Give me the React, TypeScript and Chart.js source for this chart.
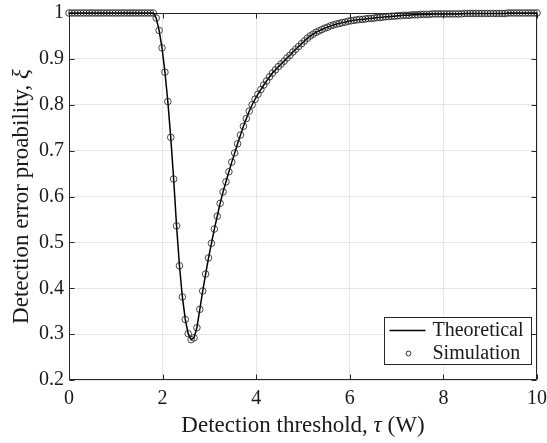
import React, { useEffect, useRef } from "react";
import { Chart, registerables } from "chart.js";

Chart.register(...registerables);

// ---- data ----
const TAU_MIN = 0;
const TAU_MAX = 10;
const SAMPLE_COUNT = 162;

// detection error probability at each threshold sample (tau from 0 to 10 W)
const xiValues = [
  1, 1, 1, 1, 1, 1, 1, 1, 1, 1,
  1, 1, 1, 1, 1, 1, 1, 1, 1, 1,
  1, 1, 1, 1, 1, 1, 1, 1, 1, 1,
  0.989, 0.962, 0.924, 0.871, 0.807, 0.729, 0.638, 0.536, 0.449, 0.381,
  0.332, 0.301, 0.288, 0.292, 0.314, 0.354, 0.394, 0.431, 0.466, 0.498,
  0.529, 0.557, 0.585, 0.61, 0.632, 0.654, 0.675, 0.695, 0.715, 0.734,
  0.753, 0.77, 0.786, 0.8, 0.812, 0.823, 0.833, 0.843, 0.852, 0.861,
  0.869, 0.876, 0.883, 0.889, 0.895, 0.902, 0.908, 0.915, 0.921, 0.927,
  0.933, 0.939, 0.945, 0.95, 0.954, 0.958, 0.961, 0.964, 0.967, 0.969,
  0.972, 0.974, 0.976, 0.977, 0.979, 0.98, 0.982, 0.983, 0.984, 0.985,
  0.986, 0.986, 0.987, 0.988, 0.988, 0.989, 0.99, 0.99, 0.991, 0.992,
  0.992, 0.993, 0.993, 0.994, 0.994, 0.995, 0.995, 0.995, 0.996, 0.996,
  0.996, 0.997, 0.997, 0.997, 0.997, 0.998, 0.998, 0.998, 0.998, 0.998,
  0.998, 0.998, 0.998, 0.998, 0.998, 0.998, 0.999, 0.999, 0.999, 0.999,
  0.999, 0.999, 0.999, 0.999, 0.999, 0.999, 0.999, 0.999, 0.999, 0.999,
  0.999, 1, 1, 1, 1, 1, 1, 1, 1, 1,
  1, 1,
];

const xTickValues = [0, 2, 4, 6, 8, 10];
const yMin = 0.2;
const yMax = 1;
const yStep = 0.1;
const seriesNames = ["Theoretical", "Simulation"];
// title pieces: [text, italic]
const xTitleParts: [string, boolean][] = [
  ["Detection threshold, ", false],
  ["\u03C4", true],
  [" (W)", false],
];
const yTitleParts: [string, boolean][] = [
  ["Detection error proability, ", false],
  ["\u03BE", true],
];

const FONT = "'Liberation Serif', 'Times New Roman', serif";
const TEXT = "#1a1a1a";
const AXIS = "#262626";
const TITLE_SIZE = 23;

function buildPoints() {
  return xiValues.map((v, i) => ({
    x: TAU_MIN + (i * (TAU_MAX - TAU_MIN)) / (SAMPLE_COUNT - 1),
    y: v,
  }));
}

function drawParts(ctx: any, parts: [string, boolean][], cx: number, cy: number) {
  const fontFor = (it: boolean) => `${it ? "italic " : ""}${TITLE_SIZE}px ${FONT}`;
  let total = 0;
  const widths = parts.map(([t, it]) => {
    ctx.font = fontFor(it);
    const w = ctx.measureText(t).width;
    total += w;
    return w;
  });
  let x = cx - total / 2;
  parts.forEach(([t, it], i) => {
    ctx.font = fontFor(it);
    ctx.fillText(t, x, cy);
    x += widths[i];
  });
}

const titlePlugin = {
  id: "axisTitles",
  afterDraw(chart: any) {
    const { ctx, chartArea: a } = chart;
    ctx.save();
    ctx.fillStyle = TEXT;
    ctx.textAlign = "left";
    ctx.textBaseline = "middle";
    drawParts(ctx, xTitleParts, (a.left + a.right) / 2, 426);
    ctx.translate(22, (a.top + a.bottom) / 2);
    ctx.rotate(-Math.PI / 2);
    drawParts(ctx, yTitleParts, 0, 0);
    ctx.restore();
  },
};

const framePlugin = {
  id: "frame",
  beforeDatasetsDraw(chart: any) {
    const { ctx, chartArea: a, scales } = chart;
    ctx.save();
    ctx.strokeStyle = AXIS;
    ctx.lineWidth = 1;
    const L = Math.round(a.left) + 0.5;
    const R = Math.round(a.right) - 0.5;
    const T = Math.round(a.top) + 0.5;
    const B = Math.round(a.bottom) - 0.5;
    ctx.beginPath();
    ctx.rect(L, T, R - L, B - T);
    ctx.stroke();
    const len = 5;
    ctx.beginPath();
    scales.x.ticks.forEach((t: any) => {
      const px = Math.round(scales.x.getPixelForValue(t.value)) + 0.5;
      ctx.moveTo(px, B);
      ctx.lineTo(px, B - len);
      ctx.moveTo(px, T);
      ctx.lineTo(px, T + len);
    });
    scales.y.ticks.forEach((t: any) => {
      const py = Math.round(scales.y.getPixelForValue(t.value)) + 0.5;
      ctx.moveTo(L, py);
      ctx.lineTo(L + len, py);
      ctx.moveTo(R, py);
      ctx.lineTo(R - len, py);
    });
    ctx.stroke();
    ctx.restore();
  },
};

const legendPlugin = {
  id: "boxLegend",
  afterDraw(chart: any) {
    const { ctx, chartArea: a } = chart;
    const x2 = Math.round(a.right) - 5.5;
    const y2 = Math.round(a.bottom) - 15.5;
    const w = 147;
    const h = 47;
    const x1 = x2 - w;
    const y1 = y2 - h;
    ctx.save();
    ctx.fillStyle = "#ffffff";
    ctx.fillRect(x1, y1, w, h);
    ctx.strokeStyle = AXIS;
    ctx.lineWidth = 1;
    ctx.strokeRect(x1, y1, w, h);
    const r1 = y1 + 13;
    const r2 = y1 + 36;
    ctx.strokeStyle = "#000";
    ctx.lineWidth = 1.5;
    ctx.beginPath();
    ctx.moveTo(x1 + 5, r1);
    ctx.lineTo(x1 + 41, r1);
    ctx.stroke();
    ctx.lineWidth = 0.8;
    ctx.beginPath();
    ctx.arc(x1 + 24, r2, 2.4, 0, Math.PI * 2);
    ctx.stroke();
    ctx.fillStyle = TEXT;
    ctx.font = `20px ${FONT}`;
    ctx.textAlign = "left";
    ctx.textBaseline = "middle";
    ctx.fillText(seriesNames[0], x1 + 48, r1);
    ctx.fillText(seriesNames[1], x1 + 48, r2);
    ctx.restore();
  },
};

export default function App() {
  const canvasRef = useRef<HTMLCanvasElement | null>(null);

  useEffect(() => {
    document.body.style.margin = "0";
    const canvas = canvasRef.current;
    if (!canvas) return;
    const pts = buildPoints();
    const chart = new Chart(canvas, {
      type: "line",
      data: {
        datasets: [
          {
            label: seriesNames[0],
            data: pts,
            borderColor: "#000",
            borderWidth: 1.5,
            pointRadius: 0,
            fill: false,
            tension: 0,
            clip: false,
            order: 2,
          },
          {
            label: seriesNames[1],
            data: pts,
            showLine: false,
            pointStyle: "circle",
            pointRadius: 3.3,
            pointBorderWidth: 0.8,
            pointBorderColor: "#1a1a1a",
            pointBackgroundColor: "rgba(0,0,0,0)",
            clip: false,
            order: 1,
          },
        ],
      },
      options: {
        animation: false,
        responsive: false,
        devicePixelRatio: 1,
        layout: { padding: { top: 13, right: 10, left: 0, bottom: 0 } },
        plugins: {
          legend: { display: false },
          tooltip: { enabled: false },
        },
        scales: {
          x: {
            type: "linear",
            min: TAU_MIN,
            max: TAU_MAX,
            afterBuildTicks: (s: any) => {
              s.ticks = xTickValues.map((v) => ({ value: v }));
            },
            afterFit: (s: any) => {
              s.height = 63;
              s.paddingRight = 0;
              s.paddingLeft = 0;
            },
            grid: { color: "#e6e6e6", drawTicks: false, lineWidth: 1 },
            border: { display: false },
            ticks: {
              color: TEXT,
              font: { family: FONT, size: 20 },
              padding: 7,
              maxRotation: 0,
            },
            title: { display: false },
          },
          y: {
            type: "linear",
            min: yMin,
            max: yMax,
            ticks: {
              stepSize: yStep,
              color: TEXT,
              font: { family: FONT, size: 20 },
              padding: 5,
              callback: (v: any) => String(Math.round(Number(v) * 10) / 10),
            },
            afterFit: (s: any) => {
              s.width = 69;
              s.paddingTop = 0;
              s.paddingBottom = 0;
            },
            grid: { color: "#e6e6e6", drawTicks: false, lineWidth: 1 },
            border: { display: false },
            title: { display: false },
          },
        },
      },
      plugins: [framePlugin, legendPlugin, titlePlugin],
    });
    return () => chart.destroy();
  }, []);

  return (
    <div style={{ width: 547, height: 443 }}>
      <canvas ref={canvasRef} width={547} height={443} style={{ display: "block" }} />
    </div>
  );
}
